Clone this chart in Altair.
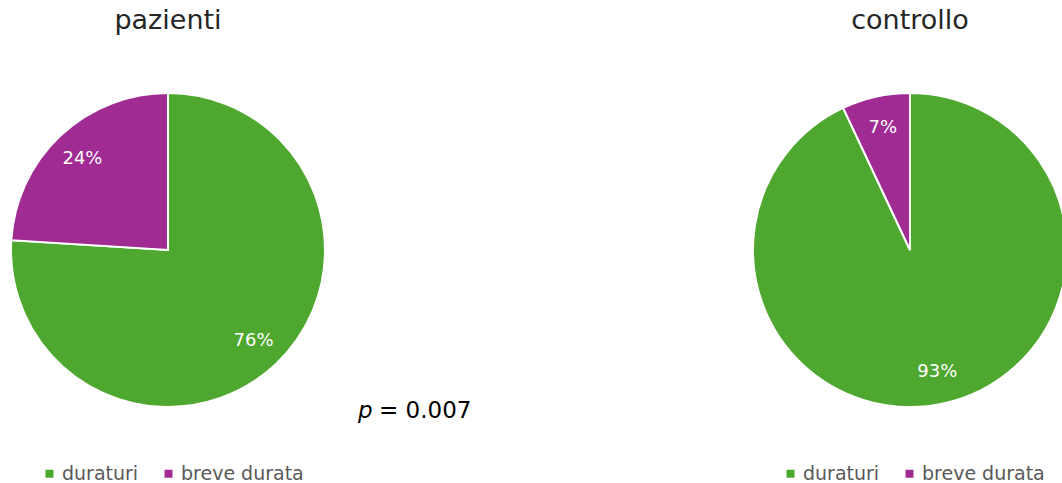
import altair as alt
import pandas as pd

# Dati
gruppi = ["pazienti", "controllo"]
categorie = ["duraturi", "breve durata"]
pazienti_pct = [76, 24]
controllo_pct = [93, 7]
colori = ["#4EA72E", "#A02B93"]
p_valore = "0.007"

righe = []
for g, valori in zip(gruppi, [pazienti_pct, controllo_pct]):
    for i, (c, v) in enumerate(zip(categorie, valori)):
        righe.append({"gruppo": g, "categoria": c, "valore": v,
                      "ordine": i, "etichetta": f"{v}%"})
df = pd.DataFrame(righe)

W, H = 1062, 483
CY = 250
R = 157
FONT = "DejaVu Sans"
centri = {"pazienti": 168, "controllo": 910}
legenda_x = {"pazienti": 40, "controllo": 781}


def torta(g):
    cx = centri[g]
    base = alt.Chart(df).transform_filter(alt.datum.gruppo == g)
    colore = alt.Color(
        "categoria:N",
        scale=alt.Scale(domain=categorie, range=colori),
        legend=alt.Legend(
            title=None, orient="none", legendX=legenda_x[g], legendY=464,
            direction="horizontal", symbolType="square", symbolSize=64,
            symbolStrokeWidth=0, labelFontSize=19, labelColor="#595959",
            labelFont=FONT, labelOffset=3, columnPadding=20, padding=0,
        ),
    )
    theta = alt.Theta("valore:Q", stack=True)
    ordine = alt.Order("ordine:Q")
    archi = base.mark_arc(radius=R, stroke="white", strokeWidth=2).encode(
        theta=theta, order=ordine, color=colore,
        x=alt.value(cx), y=alt.value(CY),
    )
    testi = base.mark_text(radius=125, fontSize=18, color="white", font=FONT).encode(
        theta=theta, order=ordine, text="etichetta:N",
        x=alt.value(cx), y=alt.value(CY),
    )
    titolo = base.transform_filter(alt.datum.ordine == 0).mark_text(
        fontSize=27, font=FONT, color="#262626", baseline="alphabetic"
    ).encode(text="gruppo:N", x=alt.value(cx), y=alt.value(29))
    return alt.layer(archi, testi, titolo)


p_df = pd.DataFrame({"p": ["p"], "resto": [f"= {p_valore}"]})
p_lettera = alt.Chart(p_df).mark_text(
    fontSize=23, font=FONT, fontStyle="italic", align="left",
    baseline="alphabetic", color="black",
).encode(text="p:N", x=alt.value(358), y=alt.value(418))
p_resto = alt.Chart(p_df).mark_text(
    fontSize=23, font=FONT, align="left", baseline="alphabetic", color="black",
).encode(text="resto:N", x=alt.value(379), y=alt.value(418))

chart = alt.layer(torta("pazienti"), torta("controllo"), p_lettera, p_resto).resolve_scale(
    color="independent"
).properties(
    width=W, height=H, padding=0, autosize="none"
).configure_view(stroke=None)

chart.save("out.html", embed_options={"renderer": "svg", "actions": False})
